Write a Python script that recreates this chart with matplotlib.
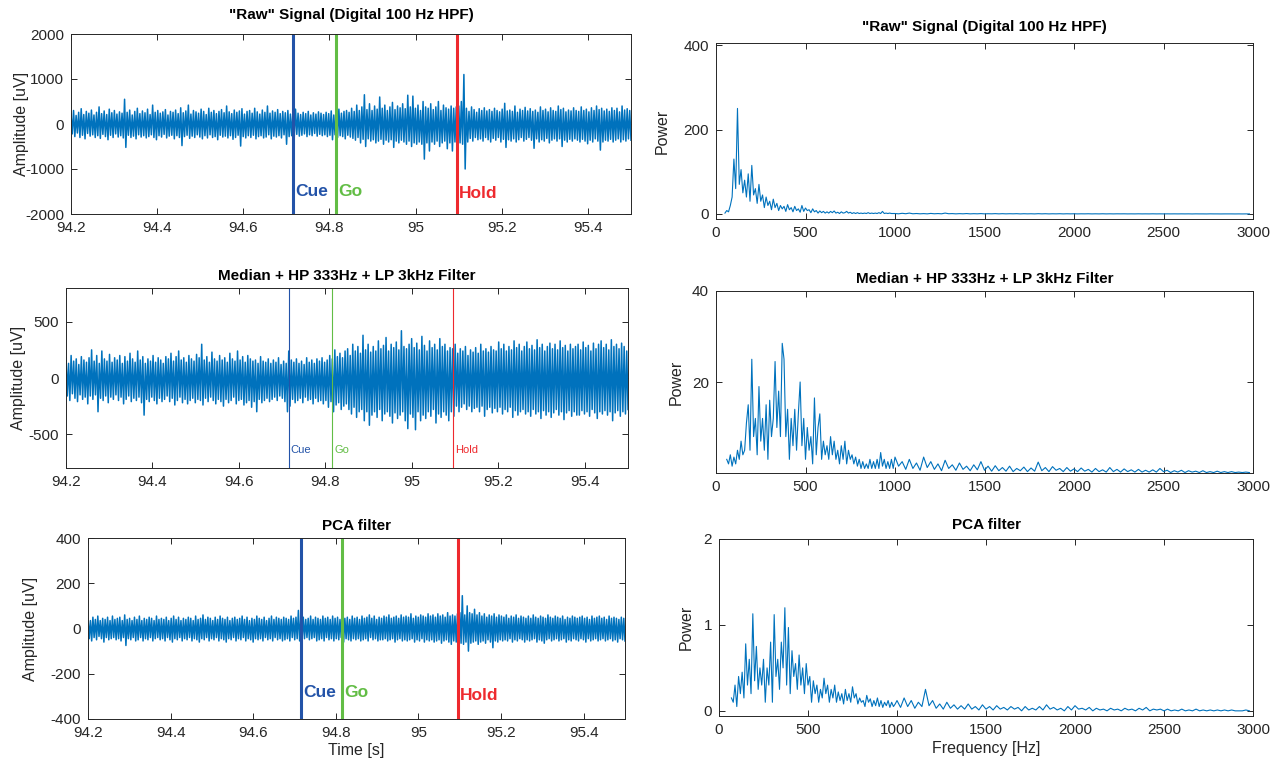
import numpy as np
import matplotlib
matplotlib.use('Agg')
import matplotlib.pyplot as plt
from matplotlib.ticker import FuncFormatter

plt.rcParams['font.family'] = ['Liberation Sans', 'DejaVu Sans']
plt.rcParams['axes.unicode_minus'] = False
plt.rcParams['path.simplify'] = False

BLUE = '#0072BD'
CUE_C = '#2353a8'
GO_C = '#62bd45'
HOLD_C = '#ee2a2e'
DARK = '#262626'

# time window [s] and event times [s]
t_start, t_end = 94.2, 95.5
events = ['Cue', 'Go', 'Hold']
event_t = [94.715, 94.815, 95.096]

# time traces, read as alternating peaks (up) / troughs (lo) of the noise band, uV
raw_up = [220, 300, 190, 260, 340, 210, 280, 240, 310, 200,
          260, 380, 230, 290, 210, 330, 250, 300, 220, 270,
          240, 550, 260, 310, 200, 280, 350, 230, 290, 250,
          330, 210, 420, 260, 300, 240, 270, 320, 200, 280,
          260, 310, 230, 360, 250, 290, 420, 220, 300, 270,
          240, 330, 280, 210, 350, 260, 300, 230, 280, 320,
          250, 400, 270, 230, 310, 260, 290, 340, 220, 280,
          300, 240, 350, 270, 220, 310, 260, 400, 240, 290,
          260, 320, 230, 280, 250, 300, 220, 270, 330, 240,
          210, 260, 230, 280, 200, 250, 220, 270, 240, 210,
          260, 230, 290, 200, 250, 330, 240, 280, 300, 260,
          350, 280, 420, 300, 380, 650, 320, 450, 300, 400,
          330, 600, 350, 420, 300, 380, 480, 320, 400, 360,
          450, 340, 640, 380, 620, 350, 420, 300, 500, 380,
          350, 450, 320, 380, 500, 300, 420, 360, 330, 400,
          350, 380, 400, 500, 1100, 350, 280, 380, 320, 260,
          340, 300, 360, 290, 320, 280, 350, 300, 270, 330,
          460, 290, 310, 280, 400, 260, 330, 300, 370, 290,
          340, 280, 310, 260, 380, 300, 330, 270, 360, 300,
          280, 400, 320, 350, 270, 310, 290, 360, 300, 280,
          380, 300, 330, 270, 360, 300, 400, 320, 350, 290,
          330, 280, 360, 300, 350, 270, 400, 310, 340, 300]
raw_lo = [-220, -280, -200, -300, -250, -330, -210, -270, -240, -300,
          -260, -320, -230, -280, -350, -250, -300, -220, -290, -260,
          -310, -520, -250, -300, -270, -330, -240, -290, -260, -310,
          -280, -240, -300, -350, -260, -290, -230, -310, -270, -250,
          -330, -260, -300, -480, -280, -250, -320, -270, -300, -240,
          -290, -330, -260, -310, -240, -300, -280, -350, -250, -290,
          -270, -310, -260, -340, -300, -250, -490, -280, -310, -260,
          -300, -250, -330, -280, -260, -310, -290, -240, -330, -270,
          -290, -260, -310, -240, -450, -280, -260, -300, -230, -270,
          -250, -220, -280, -240, -260, -210, -270, -230, -260, -240,
          -280, -250, -350, -240, -300, -260, -280, -330, -250, -290,
          -320, -360, -300, -420, -340, -500, -330, -380, -350, -420,
          -380, -340, -450, -360, -400, -350, -520, -380, -420, -360,
          -400, -450, -380, -500, -420, -450, -400, -450, -780, -420,
          -600, -400, -450, -380, -500, -420, -380, -550, -420, -600,
          -400, -380, -420, -450, -1000, -400, -320, -380, -300, -350,
          -330, -380, -300, -350, -400, -320, -360, -300, -400, -340,
          -520, -350, -380, -330, -400, -350, -300, -380, -340, -300,
          -360, -540, -330, -400, -350, -380, -320, -420, -360, -330,
          -380, -330, -500, -360, -400, -340, -380, -330, -360, -400,
          -340, -380, -440, -360, -400, -330, -380, -580, -400, -360,
          -380, -340, -400, -360, -330, -400, -350, -380, -330, -360]

mid_up = [180, 130, 200, 150, 170, 120, 190, 160, 140, 180,
          250, 150, 200, 130, 240, 170, 150, 210, 140, 180,
          160, 200, 130, 190, 150, 220, 170, 140, 240, 160,
          190, 130, 170, 150, 200, 140, 180, 160, 130, 190,
          170, 220, 150, 190, 240, 160, 180, 140, 200, 170,
          150, 210, 180, 300, 160, 190, 140, 230, 170, 150,
          200, 160, 180, 140, 220, 170, 150, 240, 160, 190,
          140, 200, 170, 150, 160, 130, 190, 150, 140, 170,
          130, 160, 140, 180, 120, 150, 130, 240, 160, 140,
          170, 130, 150, 120, 180, 140, 160, 130, 170, 150,
          180, 140, 160, 200, 170, 250, 190, 220, 180, 240,
          260, 200, 300, 240, 280, 220, 380, 250, 300, 230,
          280, 240, 330, 260, 290, 360, 240, 300, 270, 320,
          250, 420, 280, 260, 300, 350, 270, 310, 250, 370,
          290, 240, 330, 270, 300, 250, 350, 280, 300, 240,
          270, 260, 300, 220, 260, 240, 280, 200, 250, 230,
          270, 220, 300, 240, 260, 230, 280, 250, 240, 320,
          260, 300, 240, 280, 250, 330, 270, 300, 240, 280,
          320, 260, 290, 250, 340, 270, 300, 240, 280, 310,
          260, 300, 250, 330, 270, 290, 240, 300, 260, 280,
          300, 250, 320, 270, 290, 240, 310, 260, 300, 330,
          270, 300, 250, 340, 280, 300, 260, 310, 280, 240]
mid_lo = [-160, -200, -140, -180, -210, -150, -190, -170, -230, -160,
          -190, -150, -300, -180, -200, -160, -220, -170, -190, -150,
          -200, -170, -230, -190, -160, -210, -180, -200, -170, -220,
          -330, -190, -210, -170, -200, -230, -180, -210, -190, -160,
          -210, -180, -240, -200, -170, -220, -190, -230, -200, -180,
          -220, -190, -200, -240, -180, -210, -170, -200, -230, -190,
          -210, -250, -190, -220, -200, -170, -230, -200, -190, -240,
          -220, -200, -260, -210, -300, -190, -220, -200, -180, -210,
          -190, -170, -200, -160, -180, -210, -300, -250, -190, -220,
          -200, -180, -220, -170, -200, -190, -230, -180, -210, -200,
          -230, -200, -260, -210, -300, -240, -220, -280, -250, -230,
          -280, -320, -260, -350, -300, -280, -380, -300, -420, -330,
          -300, -350, -280, -380, -320, -300, -340, -400, -310, -360,
          -330, -300, -380, -450, -320, -350, -460, -300, -380, -330,
          -360, -300, -340, -280, -400, -320, -350, -300, -330, -380,
          -300, -340, -250, -300, -260, -230, -280, -250, -300, -270,
          -260, -300, -250, -340, -280, -260, -310, -270, -300, -260,
          -320, -280, -300, -260, -350, -290, -330, -300, -280, -320,
          -300, -340, -280, -320, -300, -360, -290, -330, -300, -350,
          -310, -280, -330, -300, -370, -310, -290, -340, -300, -330,
          -330, -290, -320, -300, -340, -280, -310, -360, -300, -320,
          -290, -330, -300, -380, -310, -290, -340, -300, -320, -280]

pca_up = [45, 35, 50, 40, 55, 35, 45, 40, 50, 35,
          55, 40, 45, 50, 35, 60, 40, 45, 35, 50,
          40, 55, 35, 45, 40, 50, 45, 35, 55, 40,
          45, 40, 50, 35, 45, 55, 40, 50, 35, 45,
          40, 50, 45, 35, 55, 40, 45, 60, 40, 50,
          45, 35, 50, 40, 55, 45, 40, 50, 35, 45,
          50, 40, 45, 55, 40, 50, 35, 45, 40, 55,
          45, 40, 50, 35, 45, 55, 40, 50, 45, 40,
          50, 45, 40, 55, 45, 50, 80, 45, 50, 40,
          45, 55, 40, 50, 45, 40, 55, 45, 50, 40,
          55, 45, 50, 40, 60, 45, 50, 40, 55, 45,
          50, 40, 55, 45, 50, 60, 45, 55, 40, 50,
          45, 55, 50, 60, 45, 50, 55, 45, 60, 50,
          55, 50, 65, 45, 55, 50, 60, 55, 50, 65,
          55, 60, 50, 65, 55, 60, 50, 70, 55, 60,
          55, 65, 70, 145, 60, 100, 70, 65, 85, 60,
          70, 55, 65, 50, 60, 55, 65, 50, 60, 55,
          50, 60, 45, 55, 50, 60, 45, 55, 50, 45,
          55, 45, 60, 50, 45, 55, 50, 45, 60, 50,
          45, 55, 50, 45, 55, 40, 50, 45, 55, 50,
          45, 50, 55, 45, 50, 40, 55, 45, 50, 55,
          45, 50, 40, 55, 45, 50, 45, 40, 50, 45]
pca_lo = [-45, -55, -40, -50, -35, -45, -60, -40, -50, -45,
          -40, -50, -45, -55, -40, -75, -45, -50, -40, -55,
          -50, -40, -55, -45, -50, -40, -55, -45, -40, -50,
          -45, -55, -40, -50, -60, -45, -50, -40, -55, -45,
          -50, -40, -55, -45, -50, -60, -45, -50, -40, -55,
          -45, -50, -40, -55, -45, -50, -60, -45, -50, -40,
          -55, -45, -50, -40, -55, -45, -50, -60, -45, -50,
          -45, -55, -40, -50, -45, -55, -40, -50, -45, -55,
          -50, -45, -55, -40, -50, -45, -55, -50, -45, -40,
          -50, -45, -40, -55, -50, -45, -55, -40, -50, -45,
          -55, -45, -50, -40, -60, -45, -50, -55, -45, -50,
          -45, -55, -50, -45, -55, -40, -50, -45, -55, -50,
          -50, -45, -55, -50, -45, -60, -50, -45, -55, -50,
          -55, -50, -45, -60, -50, -55, -45, -60, -50, -55,
          -50, -60, -55, -50, -65, -55, -50, -60, -70, -55,
          -60, -130, -65, -70, -60, -100, -65, -60, -55, -70,
          -60, -55, -65, -50, -60, -85, -55, -60, -50, -55,
          -50, -55, -45, -60, -50, -55, -45, -50, -60, -50,
          -55, -50, -45, -60, -50, -55, -65, -50, -45, -55,
          -50, -45, -55, -50, -45, -60, -50, -55, -45, -50,
          -55, -45, -50, -60, -45, -55, -50, -45, -55, -50,
          -45, -55, -50, -45, -55, -50, -60, -45, -50, -55]

# power spectra: 10 Hz bins below 1 kHz, 20 Hz bins from 1 to 3 kHz
raw_spec_f0 = 50
raw_spec_lo = [2, 8, 5, 20, 40, 130, 60, 250, 70, 105,
               50, 80, 40, 95, 30, 115, 45, 60, 25, 70,
               30, 45, 15, 40, 20, 30, 10, 35, 15, 25,
               8, 20, 12, 18, 6, 22, 10, 15, 5, 18,
               8, 12, 4, 20, 6, 14, 8, 10, 3, 12,
               5, 8, 2, 7, 3, 6, 2, 5, 2, 6,
               3, 7, 2, 4, 1, 5, 2, 3, 6, 2,
               4, 1, 3, 1, 3, 1, 2, 1, 2, 1,
               3, 1, 2, 1, 2, 1, 3, 1, 6, 1,
               2, 1, 2, 1, 1]
raw_spec_hi = [1, 0.3, 1.5, 0.5, 2, 0.4, 1, 0.3, 0.8, 0.2,
               1.2, 0.4, 0.9, 0.3, 2, 0.5, 0.8, 0.2, 0.7, 0.3,
               0.9, 0.2, 0.6, 0.3, 0.8, 0.2, 0.5, 0.3, 0.7, 0.2,
               0.6, 0.2, 0.5, 0.3, 0.6, 0.1, 0.5, 0.2, 0.4, 0.1,
               0.6, 0.2, 0.5, 0.1, 0.4, 0.2, 0.5, 0.1, 0.4, 0.2,
               0.4, 0.1, 0.3, 0.2, 0.4, 0.1, 0.3, 0.1, 0.4, 0.1,
               0.3, 0.1, 0.3, 0.2, 0.3, 0.1, 0.2, 0.1, 0.3, 0.1,
               0.2, 0.1, 0.3, 0.1, 0.2, 0.1, 0.2, 0.1, 0.2, 0.1,
               0.2, 0.1, 0.2, 0.0, 0.2, 0.1, 0.1, 0.0, 0.2, 0.1,
               0.1, 0.0, 0.1, 0.1, 0.1, 0.0, 0.1, 0.0, 0.1, 0.0]

mid_spec_f0 = 60
mid_spec_lo = [3, 2, 4, 1.5, 3.5, 2, 5, 3, 7, 4,
               5, 11, 15, 5, 25, 8, 12, 4, 19, 7,
               12, 5, 15, 3, 16, 8, 12, 24.5, 10, 18,
               8, 28.5, 25, 8, 14, 3, 12, 6, 14, 5,
               13, 20, 6, 12, 3, 10, 5, 8, 2, 16.5,
               4, 10, 13, 3, 7, 4, 6, 3, 8, 4,
               7, 3, 5, 2, 6, 3, 7, 2, 5, 3,
               4, 2, 3.5, 1.5, 3, 1, 2.5, 1, 2, 1,
               3, 1, 2.5, 1, 3, 1, 4.5, 1.5, 3, 1,
               2.5, 1, 3, 1]
mid_spec_hi = [3.5, 1.5, 2.5, 0.8, 3, 1, 2.2, 0.6, 3.5, 1.2,
               2.5, 0.8, 2, 0.5, 2.8, 1, 1.8, 0.6, 2.2, 0.8,
               1.5, 0.5, 1.8, 0.7, 2.5, 0.6, 1.5, 0.4, 1.6, 0.5,
               1.2, 0.4, 1.5, 0.3, 1, 0.5, 1.3, 0.3, 1.1, 0.4,
               2.4, 0.5, 1.2, 0.3, 1.4, 0.6, 1.0, 0.3, 1.2, 0.4,
               0.9, 0.3, 1.1, 0.4, 0.8, 0.2, 1.0, 0.3, 0.7, 0.2,
               1.2, 0.3, 0.8, 0.2, 0.9, 0.3, 0.7, 0.2, 0.8, 0.2,
               0.6, 0.2, 0.7, 0.2, 1.0, 0.3, 0.6, 0.1, 0.5, 0.2,
               0.6, 0.1, 0.5, 0.2, 0.4, 0.1, 0.5, 0.1, 0.3, 0.1,
               0.4, 0.1, 0.3, 0.1, 0.3, 0.1, 0.2, 0.1, 0.2, 0.1]

pca_spec_f0 = 70
pca_spec_lo = [0.15, 0.1, 0.3, 0.05, 0.4, 0.2, 0.45, 0.15, 0.78, 0.3,
               0.6, 0.2, 1.13, 0.35, 0.75, 0.25, 0.5, 0.3, 0.6, 0.1,
               0.5, 0.3, 0.8, 0.1, 1.12, 0.4, 0.6, 0.25, 0.8, 0.5,
               1.2, 0.3, 0.97, 0.2, 0.7, 0.4, 0.55, 0.25, 0.65, 0.3,
               0.5, 0.2, 0.55, 0.3, 0.4, 0.1, 0.35, 0.2, 0.3, 0.1,
               0.25, 0.15, 0.38, 0.2, 0.3, 0.1, 0.25, 0.15, 0.3, 0.1,
               0.22, 0.12, 0.2, 0.08, 0.25, 0.12, 0.2, 0.1, 0.28, 0.15,
               0.2, 0.08, 0.15, 0.1, 0.12, 0.05, 0.18, 0.1, 0.14, 0.05,
               0.12, 0.06, 0.15, 0.05, 0.12, 0.04, 0.1, 0.06, 0.12, 0.04,
               0.1, 0.05, 0.08]
pca_spec_hi = [0.12, 0.04, 0.15, 0.05, 0.12, 0.03, 0.1, 0.05, 0.25, 0.06,
               0.12, 0.03, 0.08, 0.02, 0.1, 0.03, 0.07, 0.02, 0.06, 0.02,
               0.08, 0.02, 0.05, 0.01, 0.07, 0.02, 0.05, 0.01, 0.06, 0.02,
               0.04, 0.01, 0.05, 0.02, 0.04, 0.0, 0.05, 0.01, 0.03, 0.01,
               0.05, 0.01, 0.07, 0.02, 0.04, 0.01, 0.03, 0.0, 0.05, 0.01,
               0.06, 0.02, 0.03, 0.01, 0.04, 0.0, 0.03, 0.01, 0.02, 0.0,
               0.03, 0.01, 0.02, 0.0, 0.03, 0.01, 0.02, 0.0, 0.03, 0.01,
               0.04, 0.0, 0.02, 0.01, 0.02, 0.0, 0.02, 0.0, 0.01, 0.0,
               0.02, 0.0, 0.01, 0.0, 0.02, 0.0, 0.01, 0.0, 0.01, 0.0,
               0.01, 0.0, 0.01, 0.0, 0.01, 0.0, 0.0, 0.0, 0.01, 0.0]

titles = ['"Raw" Signal (Digital 100 Hz HPF)', 'Median + HP 333Hz + LP 3kHz Filter', 'PCA filter']


def trace(up, lo):
    n = min(len(up), len(lo))
    sig = np.empty(2 * n)
    sig[0::2] = up[:n]
    sig[1::2] = lo[:n]
    t = np.linspace(t_start, t_end, 2 * n)
    return t, sig


def spectrum(f0, lo, hi):
    f_lo = f0 + 10 * np.arange(len(lo))
    f_hi = 1000 + 20 * np.arange(len(hi))
    return np.concatenate([f_lo, f_hi]), np.concatenate([lo, hi])


def style(ax):
    for s in ax.spines.values():
        s.set_color(DARK)
        s.set_linewidth(0.7)
    ax.tick_params(direction='in', top=True, right=True, length=4, width=0.7,
                   colors=DARK, labelsize=11, pad=5)


fig = plt.figure(figsize=(12.76, 7.65), dpi=100)
W, H = 1276, 765


def add_axes(l, r, t, b):
    return fig.add_axes([l / W, 1 - b / H, (r - l) / W, (b - t) / H])


ax_t = [add_axes(71, 631, 34, 214), add_axes(66, 628, 288, 468), add_axes(88, 625, 538, 719)]
ax_f = [add_axes(716, 1253, 43, 219), add_axes(716, 1253, 291, 473), add_axes(719, 1253, 539, 716)]

traces = [(raw_up, raw_lo), (mid_up, mid_lo), (pca_up, pca_lo)]
ylims = [(-2000, 2000), (-800, 800), (-400, 400)]
yticks = [[-2000, -1000, 0, 1000, 2000], [-500, 0, 500], [-400, -200, 0, 200, 400]]
label_y = [[-1500, -1500, -1550], [-640, -640, -640], [-281, -281, -298]]
ev_colors = [CUE_C, GO_C, HOLD_C]
t_pads = [11, 6, 6]
t_lpads = [-2.5, 2, 9]

for k, ax in enumerate(ax_t):
    t, sig = trace(*traces[k])
    ax.plot(t, sig, color=BLUE, lw=1.1)
    thin = (k == 1)
    for j, (name, te) in enumerate(zip(events, event_t)):
        ax.axvline(te, color=ev_colors[j], lw=0.8 if thin else 2.2)
        ax.text(te + 0.005, label_y[k][j], name, color=ev_colors[j],
                fontsize=8 if thin else 12.5, fontweight='normal' if thin else 'bold',
                va='center', ha='left')
    ax.set_xlim(t_start, t_end)
    ax.set_ylim(*ylims[k])
    ax.set_yticks(yticks[k])
    ax.set_xticks([94.2, 94.4, 94.6, 94.8, 95.0, 95.2, 95.4])
    ax.xaxis.set_major_formatter(FuncFormatter(lambda v, p: '%g' % round(v, 2)))
    ax.set_ylabel('Amplitude [uV]', fontsize=11.5, color=DARK, labelpad=t_lpads[k])
    ax.set_title(titles[k], fontsize=11, fontweight='bold', pad=t_pads[k])
    style(ax)
ax_t[2].set_xlabel('Time [s]', fontsize=11.5, color=DARK, labelpad=2)

spectra = [(raw_spec_f0, raw_spec_lo, raw_spec_hi),
           (mid_spec_f0, mid_spec_lo, mid_spec_hi),
           (pca_spec_f0, pca_spec_lo, pca_spec_hi)]
f_ylims = [(-12, 405), (0, 40), (-0.06, 2)]
f_yticks = [[0, 200, 400], [20, 40], [0, 1, 2]]
f_pads = [9, 6, 7]
f_lpads = [10, 6, 7]

for k, ax in enumerate(ax_f):
    f, p = spectrum(*spectra[k])
    ax.plot(f, p, color=BLUE, lw=0.8)
    ax.set_xlim(0, 3000)
    ax.set_ylim(*f_ylims[k])
    ax.set_yticks(f_yticks[k])
    ax.set_xticks([0, 500, 1000, 1500, 2000, 2500, 3000])
    ax.set_ylabel('Power', fontsize=11.5, color=DARK, labelpad=f_lpads[k])
    ax.set_title(titles[k], fontsize=11, fontweight='bold', pad=f_pads[k])
    style(ax)
ax_f[2].set_xlabel('Frequency [Hz]', fontsize=11.5, color=DARK, labelpad=3)

fig.savefig('out.png', dpi=100)
